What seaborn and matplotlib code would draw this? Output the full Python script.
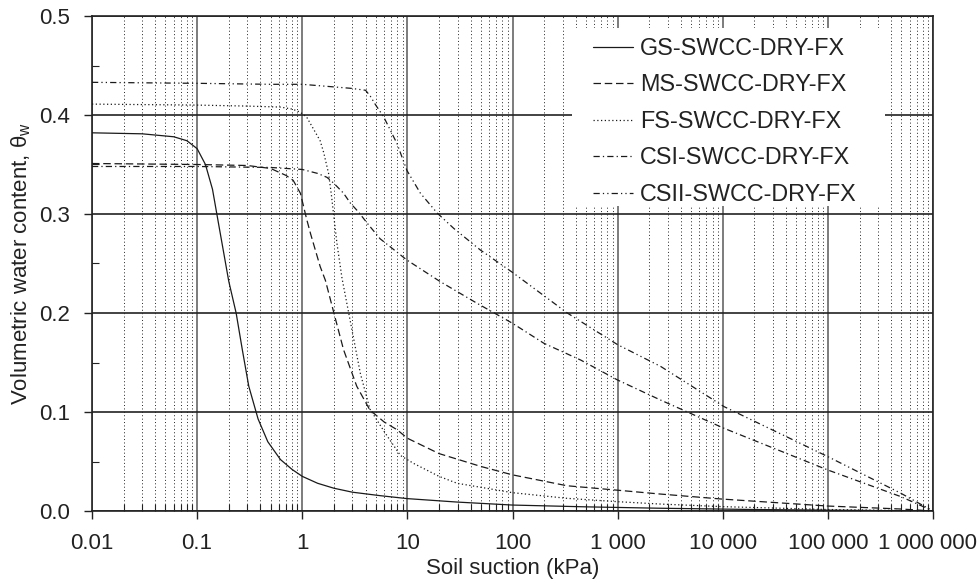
import matplotlib
matplotlib.use("Agg")
import matplotlib.pyplot as plt
from matplotlib.patches import Rectangle
from matplotlib.transforms import ScaledTranslation
from matplotlib.ticker import LogLocator, FixedLocator, FixedFormatter, MultipleLocator, FormatStrFormatter, NullFormatter
import numpy as np
import pandas as pd
import seaborn as sns

# Soil-water characteristic curves, drying branch
gs_suction = [0.01, 0.03, 0.06, 0.08, 0.1, 0.12, 0.14, 0.16, 0.2, 0.235, 0.27, 0.31, 0.38,
              0.47, 0.62, 0.8, 1.0, 1.4, 2.0, 3.0, 5.5, 10, 30, 100, 500, 2500, 20000, 200000, 1e6]
gs_theta = [0.382, 0.381, 0.378, 0.374, 0.366, 0.350, 0.325, 0.290, 0.232, 0.200, 0.162, 0.126, 0.093,
            0.070, 0.052, 0.042, 0.035, 0.028, 0.023, 0.019, 0.0155, 0.0125, 0.009, 0.006, 0.0042, 0.0028,
            0.0015, 0.0006, 0.0]

ms_suction = [0.01, 0.1, 0.3, 0.5, 0.7, 0.82, 0.96, 1.1, 1.2, 1.48, 1.66, 2.0, 2.47, 3.3, 4.4, 6.0,
              8.0, 10, 20, 50, 100, 330, 1000, 2500, 10000, 1e5, 5e5, 1e6]
ms_theta = [0.351, 0.350, 0.349, 0.346, 0.339, 0.334, 0.321, 0.295, 0.280, 0.247, 0.233, 0.200, 0.163,
            0.126, 0.102, 0.090, 0.082, 0.0735, 0.058, 0.045, 0.0365, 0.0255, 0.021, 0.0172, 0.012,
            0.005, 0.002, 0.0]

fs_suction = [0.01, 0.1, 0.3, 0.62, 0.8, 0.95, 1.1, 1.2, 1.48, 1.6, 1.78, 1.9, 2.0, 2.14, 2.39, 2.97,
              3.57, 4.4, 6.17, 8.6, 11.5, 20, 29.7, 100, 330, 1000, 2570, 10000, 1e5, 1e6]
fs_theta = [0.411, 0.410, 0.409, 0.408, 0.406, 0.403, 0.398, 0.391, 0.374, 0.362, 0.341, 0.318, 0.297,
            0.270, 0.235, 0.183, 0.139, 0.103, 0.0785, 0.056, 0.048, 0.035, 0.028, 0.0185, 0.0128,
            0.0094, 0.007, 0.0044, 0.0015, 0.0]

csi_suction = [0.01, 0.1, 0.5, 1.0, 1.4, 1.72, 2.0, 2.47, 2.87, 3.43, 4.13, 5.5, 9.9, 20.6, 46, 100,
               199, 445, 1000, 2570, 10300, 1e5, 4.95e5, 1e6]
csi_theta = [0.348, 0.348, 0.347, 0.345, 0.341, 0.337, 0.331, 0.321, 0.311, 0.302, 0.291, 0.275, 0.2535,
             0.2316, 0.2098, 0.1896, 0.1694, 0.1525, 0.1323, 0.112, 0.0835, 0.0414, 0.0145, 0.0]

csii_suction = [0.01, 0.1, 0.5, 1.0, 2.87, 4.0, 4.44, 5.0, 5.96, 7.98, 9.9, 13.3, 19.2, 27.6, 49.5,
                100, 332, 1000, 2570, 10300, 1e5, 4.95e5, 1e6]
csii_theta = [0.433, 0.432, 0.431, 0.431, 0.427, 0.425, 0.419, 0.410, 0.398, 0.371, 0.344, 0.321, 0.301,
              0.2855, 0.2636, 0.241, 0.200, 0.168, 0.146, 0.1054, 0.0549, 0.0179, 0.0]

series_names = ["GS-SWCC-DRY-FX", "MS-SWCC-DRY-FX", "FS-SWCC-DRY-FX",
                "CSI-SWCC-DRY-FX", "CSII-SWCC-DRY-FX"]

x_tick_values = [0.01, 0.1, 1, 10, 100, 1e3, 1e4, 1e5, 1e6]
x_tick_labels = ["0.01", "0.1", "1", "10", "100", "1 000", "10 000", "100 000", "1 000 000"]
y_tick_values = [0.0, 0.1, 0.2, 0.3, 0.4, 0.5]

curves = [(gs_suction, gs_theta), (ms_suction, ms_theta), (fs_suction, fs_theta),
          (csi_suction, csi_theta), (csii_suction, csii_theta)]
frames = []
for name, (s, t) in zip(series_names, curves):
    frames.append(pd.DataFrame({"suction": s, "theta": t, "series": name}))
df = pd.concat(frames, ignore_index=True)

sns.set_theme(style="ticks")
plt.rcParams["font.family"] = ["Liberation Sans", "DejaVu Sans"]
plt.rcParams["mathtext.fontset"] = "custom"
plt.rcParams["mathtext.rm"] = "Liberation Sans"
plt.rcParams["mathtext.it"] = "Liberation Sans:italic"
plt.rcParams["mathtext.sf"] = "Liberation Sans"

TEXT = "#222222"

fig = plt.figure(figsize=(9.77, 5.86), dpi=100)
ax = fig.add_axes([92 / 977, 1 - 511 / 586, 841 / 977, 495 / 586])

dash_map = {
    series_names[0]: "",
    series_names[1]: (6, 3),
    series_names[2]: (1, 2),
    series_names[3]: (5, 2.5, 1, 2.5),
    series_names[4]: (5, 2.5, 1, 2.5, 1, 2.5),
}
palette = {n: "#1a1a1a" for n in series_names}

ax.set_xscale("log")
sns.lineplot(data=df, x="suction", y="theta", hue="series", style="series",
             hue_order=series_names, style_order=series_names,
             palette=palette, dashes=dash_map, estimator=None, sort=False,
             linewidth=0.9, ax=ax, zorder=3)

ax.set_xlim(0.01, 1e6)
ax.set_ylim(0, 0.5)

ax.xaxis.set_major_locator(FixedLocator(x_tick_values))
ax.xaxis.set_major_formatter(FixedFormatter(x_tick_labels))
ax.xaxis.set_minor_locator(LogLocator(base=10, subs=np.arange(2, 10), numticks=30))
ax.xaxis.set_minor_formatter(NullFormatter())
ax.yaxis.set_major_locator(FixedLocator(y_tick_values))
ax.yaxis.set_major_formatter(FormatStrFormatter("%.1f"))
ax.yaxis.set_minor_locator(MultipleLocator(0.05))

ax.grid(which="major", axis="x", color="#666666", linewidth=1.2, linestyle="-", zorder=1)
ax.grid(which="minor", axis="x", color="#222222", linewidth=0.7, linestyle=(0, (1, 2.5)), zorder=1)
ax.grid(which="major", axis="y", color="#222222", linewidth=1.2, linestyle="-", zorder=1)
ax.set_axisbelow(True)

ax.tick_params(which="major", direction="out", length=6, width=1.0, pad=10,
               labelsize=16, color=TEXT, labelcolor=TEXT)
ax.tick_params(which="minor", direction="in", length=5, width=0.8, color=TEXT)

for sp in ax.spines.values():
    sp.set_visible(True)
    sp.set_color(TEXT)
    sp.set_linewidth(1.2)

ax.set_xlabel("Soil suction (kPa)", fontsize=16, color=TEXT, labelpad=3)
ax.set_ylabel(r"Volumetric water content, $\mathrm{\theta_w}$", fontsize=16,
              color=TEXT, labelpad=4)

# keep the rightmost tick label inside the figure
fig.canvas.draw()
last_label = ax.get_xticklabels()[-1]
last_label.set_transform(last_label.get_transform() + ScaledTranslation(-6 / 100, 0, fig.dpi_scale_trans))

# white panel behind the legend entries
ax.add_patch(Rectangle((0.5707, 0.616), 0.3723, 0.3598, transform=ax.transAxes,
                       facecolor="white", edgecolor="none", zorder=2))

handles, labels = ax.get_legend_handles_labels()
leg = ax.legend(handles, labels, loc="upper left", bbox_to_anchor=(0.5957, 0.958),
                borderaxespad=0, borderpad=0, fontsize=16.8, handlelength=1.72,
                handletextpad=0.3, labelspacing=0.58, frameon=False)
for txt in leg.get_texts():
    txt.set_color(TEXT)
leg.set_zorder(5)

fig.savefig("out.png", dpi=100)
